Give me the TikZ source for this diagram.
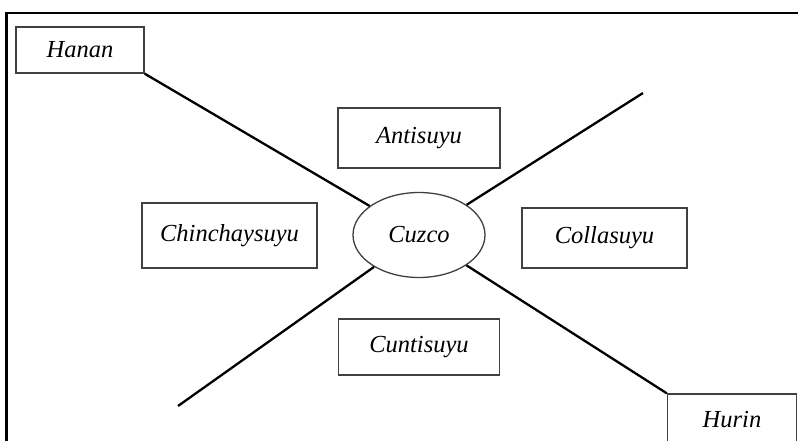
\documentclass[tikz,border=0pt]{standalone}
\usepackage{fontspec}
\setmainfont{Liberation Serif}
\usetikzlibrary{shapes,calc}

\begin{document}
\begin{tikzpicture}[x=1pt,y=-1pt,
	suyu/.style={draw=black!75, line width=1.3pt, rectangle, inner sep=0pt,
		font=\fontsize{24.5}{28}\selectfont\itshape},
	ray/.style={line width=2.3pt, black}]
	
	\useasboundingbox (0,0) rectangle (798,441);
	
	\draw[line width=2.5pt] (6.5,441) -- (6.5,13) -- (798,13);
	
	\node[suyu, minimum width=128pt, minimum height=46pt] (hanan) at (80,50) {Hanan};
	\node[suyu, minimum width=129pt, minimum height=52pt] (hurin) at (732,420) {Hurin};
	\node[suyu, minimum width=162pt, minimum height=60pt] (anti) at (419,138) {Antisuyu};
	\node[suyu, minimum width=161pt, minimum height=56pt] (cunti) at (419,347) {Cuntisuyu};
	\node[suyu, minimum width=175pt, minimum height=65pt] (chinchay) at (229.5,235.5) {Chinchaysuyu};
	\node[suyu, minimum width=165pt, minimum height=60pt] (colla) at (604.5,238) {Collasuyu};
	\node[suyu, ellipse, minimum width=132pt, minimum height=85pt] (cuzco) at (419,235) {Cuzco};
	
	\coordinate (ne) at (643,93);
	\coordinate (sw) at (178,406);
	
	\draw[ray] (hanan.south east) -- (cuzco);
	\draw[ray] (cuzco) -- (hurin.north west);
	\draw[ray] (cuzco) -- (ne);
	\draw[ray] (sw) -- (cuzco);
	
\end{tikzpicture}
\end{document}
